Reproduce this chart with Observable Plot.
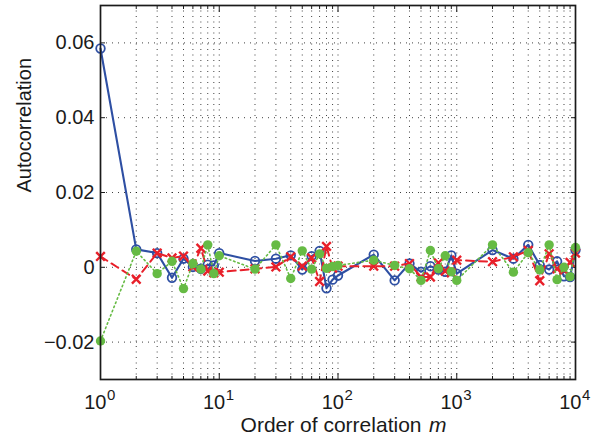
<!DOCTYPE html>
<html>
<head>
<meta charset="utf-8">
<script src="https://cdn.jsdelivr.net/npm/d3@7"></script>
<script src="https://cdn.jsdelivr.net/npm/@observablehq/plot@0.6"></script>
<style>
  html, body { margin: 0; padding: 0; background: #fff; }
  #chart { width: 598px; height: 437px; }
</style>
</head>
<body>
<div id="chart"></div>
<script>
// Order of correlation m
const orders = [1,2,3,4,5,6,7,8,9,10,20,30,40,50,60,70,80,90,100,200,300,400,500,600,700,800,900,1000,2000,3000,4000,5000,6000,7000,8000,9000,10000];
// Series (blue solid circles, red dashed crosses, green dotted dots)
const blueSeries = [0.0585,0.0048,0.0038,-0.0028,0.0023,0.0001,-0.0004,0.0007,0.0005,0.0038,0.0017,0.0023,0.0032,-0.0006,0.0030,0.0044,-0.0056,-0.0033,-0.0022,0.0034,-0.0035,0.0010,-0.0012,0.0003,-0.0006,-0.0012,0.0032,-0.0017,0.0046,0.0023,0.0060,0.0006,-0.0006,0.0016,-0.0024,-0.0026,0.0046];
const redSeries = [0.0029,-0.0032,0.0038,0.0025,0.0030,0.0001,0.0051,-0.0010,-0.0015,-0.0013,-0.0004,0.0001,0.0028,0.0003,0.0025,-0.0038,0.0056,-0.0002,0.0003,0.0003,0.0003,0.0010,-0.0026,-0.0026,0.0012,-0.0010,-0.0015,0.0019,0.0015,0.0028,0.0045,-0.0036,0.0036,-0.0004,-0.0008,0.0013,0.0038];
const greenSeries = [-0.0197,0.0043,-0.0017,0.0016,-0.0057,0.0010,-0.0005,0.0060,-0.0017,0.0031,-0.0005,0.0060,-0.0030,0.0044,-0.0005,0.0036,-0.0003,0.0002,0.0005,0.0019,0.0005,-0.0004,-0.0035,0.0045,-0.0004,0.0031,-0.0012,-0.0035,0.0060,-0.0013,0.0039,-0.0007,0.0060,-0.0033,0.0000,-0.0025,0.0053];

// Ticks
const yTicks = [-0.02, 0, 0.02, 0.04, 0.06];
const yTickLabels = ["\u22120.02", "0", "0.02", "0.04", "0.06"];
const xMajorTicks = [1, 10, 100, 1000, 10000];
const xTickBase = ["10", "10", "10", "10", "10"];
const xTickExp = ["0", "1", "2", "3", "4"];
const xMinorTicks = [2,3,4,5,6,7,8,9,20,30,40,50,60,70,80,90,200,300,400,500,600,700,800,900,2000,3000,4000,5000,6000,7000,8000,9000];
const xLabel = "Order of correlation";
const xLabelVar = "m";
const yLabel = "Autocorrelation";

const toRows = (ys) => orders.map((x, i) => ({x, y: ys[i]}));
const blueRows = toRows(blueSeries);
const redRows = toRows(redSeries);
const greenRows = toRows(greenSeries);

const BLUE = "#2e4fa3";
const RED = "#e8202a";
const GREEN = "#66bb44";
const INK = "#1a1a1a";
const noLabel = () => "";

const chart = Plot.plot({
  width: 598,
  height: 437,
  marginLeft: 100,
  marginRight: 23,
  marginTop: 5,
  marginBottom: 58,
  x: {type: "log", domain: [1, 10000]},
  y: {domain: [-0.03, 0.07]},
  style: {fontFamily: "'Liberation Sans', Arial, sans-serif", fontSize: "20px", color: INK, background: "#fff"},
  marks: [
    // grid
    Plot.ruleX(xMajorTicks.concat(xMinorTicks), {stroke: "#000", strokeOpacity: 0.75, strokeDasharray: "1,4.5"}),
    Plot.ruleY(yTicks, {stroke: "#000", strokeOpacity: 0.75, strokeDasharray: "1,5"}),
    // axes with inward ticks
    Plot.axisY(yTicks, {anchor: "left", tickSize: -5, tickPadding: 11, tickFormat: d => yTickLabels[yTicks.indexOf(d)], label: null, fontSize: 20, stroke: INK}),
    Plot.axisY(yTicks, {anchor: "right", tickSize: -5, tickFormat: noLabel, label: null, stroke: INK}),
    Plot.axisX(xMajorTicks, {anchor: "bottom", tickSize: -6, tickFormat: noLabel, label: null, stroke: INK}),
    Plot.axisX(xMinorTicks, {anchor: "bottom", tickSize: -3, tickFormat: noLabel, label: null, stroke: INK}),
    Plot.axisX(xMajorTicks, {anchor: "top", tickSize: -6, tickFormat: noLabel, label: null, stroke: INK}),
    Plot.axisX(xMinorTicks, {anchor: "top", tickSize: -3, tickFormat: noLabel, label: null, stroke: INK}),
    // x tick labels 10^k
    Plot.text(xMajorTicks, {x: d => d, text: (d, i) => xTickBase[i], frameAnchor: "bottom", textAnchor: "end", lineAnchor: "bottom", dx: 6, dy: 29, fontSize: 20, fill: INK}),
    Plot.text(xMajorTicks, {x: d => d, text: (d, i) => xTickExp[i], frameAnchor: "bottom", textAnchor: "start", lineAnchor: "bottom", dx: 6.5, dy: 20, fontSize: 15, fill: INK}),
    // axis titles
    Plot.text([xLabel], {frameAnchor: "bottom", text: d => d, textAnchor: "end", lineAnchor: "bottom", dx: 83.5, dy: 52, fontSize: 21, fill: INK}),
    Plot.text([xLabelVar], {frameAnchor: "bottom", text: d => d, textAnchor: "start", lineAnchor: "bottom", dx: 91, dy: 52, fontSize: 21, fontStyle: "italic", fill: INK}),
    Plot.text([yLabel], {frameAnchor: "left", text: d => d, rotate: -90, lineAnchor: "middle", dx: -76, fontSize: 20, fill: INK}),
    // series
    Plot.line(blueRows, {x: "x", y: "y", stroke: BLUE, strokeWidth: 2.1}),
    Plot.dot(blueRows, {x: "x", y: "y", stroke: BLUE, fill: "none", r: 4.3, strokeWidth: 1.8}),
    Plot.line(redRows, {x: "x", y: "y", stroke: RED, strokeWidth: 2, strokeDasharray: "8,5"}),
    Plot.dot(redRows, {x: "x", y: "y", stroke: RED, symbol: "times", r: 4, strokeWidth: 2.4}),
    Plot.line(greenRows, {x: "x", y: "y", stroke: GREEN, strokeWidth: 1.6, strokeDasharray: "1.5,3"}),
    Plot.dot(greenRows, {x: "x", y: "y", fill: GREEN, r: 4.7}),
    // frame
    Plot.frame({stroke: INK, strokeWidth: 1.7})
  ]
});
document.getElementById("chart").appendChild(chart);
</script>
</body>
</html>
